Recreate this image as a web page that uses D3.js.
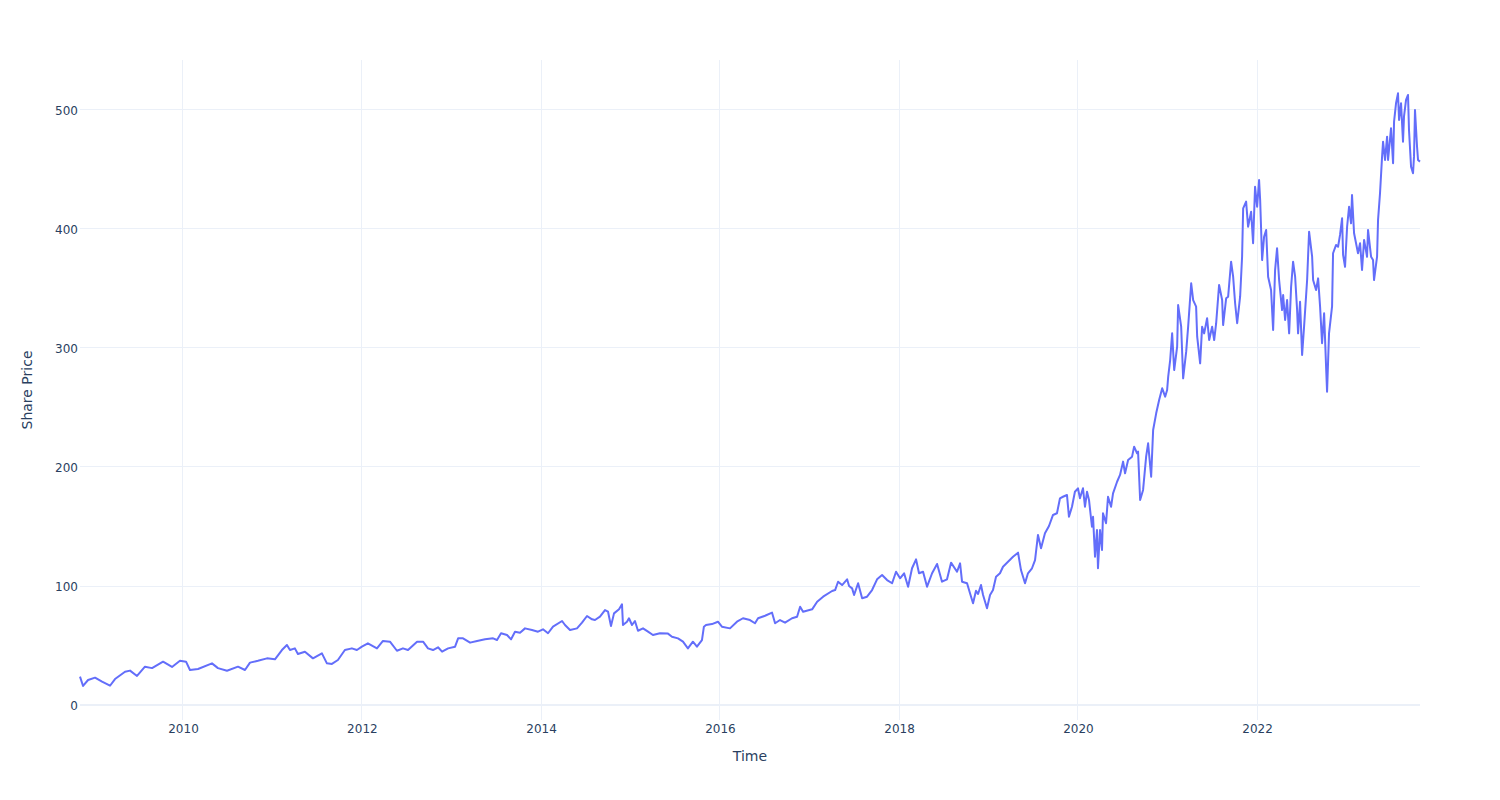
<!DOCTYPE html>
<html>
<head>
<meta charset="utf-8">
<script src="https://cdn.jsdelivr.net/npm/d3@7"></script>
<style>
  html, body { margin: 0; padding: 0; background: #fff; }
  svg { display: block; }
  text { font-family: "DejaVu Sans", Verdana, sans-serif; fill: #2a3f5f; }
</style>
</head>
<body>
<svg id="chart" width="1500" height="800"></svg>
<script>
// Time as decimal years
const years = [
2008.849,2008.883,2008.939,2009.017,2009.095,2009.184,2009.240,2009.352,2009.408,2009.486,
2009.575,2009.654,2009.777,2009.877,2009.966,2010.034,2010.078,2010.168,2010.324,2010.391,
2010.492,2010.615,2010.693,2010.749,2010.838,2010.939,2011.028,2011.106,2011.162,2011.196,
2011.251,2011.285,2011.363,2011.453,2011.553,2011.609,2011.665,2011.732,2011.810,2011.888,
2011.944,2012.000,2012.067,2012.168,2012.235,2012.313,2012.391,2012.458,2012.514,2012.615,
2012.682,2012.737,2012.793,2012.849,2012.894,2012.961,2013.039,2013.073,2013.128,2013.207,
2013.285,2013.374,2013.464,2013.508,2013.553,2013.620,2013.665,2013.709,2013.765,2013.821,
2013.899,2013.966,2014.022,2014.078,2014.134,2014.235,2014.268,2014.324,2014.402,2014.458,
2014.514,2014.570,2014.603,2014.659,2014.715,2014.749,2014.782,2014.816,2014.872,2014.905,
2014.916,2014.961,2014.983,2015.017,2015.050,2015.084,2015.140,2015.196,2015.251,2015.330,
2015.419,2015.464,2015.531,2015.587,2015.642,2015.698,2015.743,2015.799,2015.821,2015.844,
2015.911,2015.978,2016.022,2016.112,2016.190,2016.257,2016.335,2016.391,2016.425,2016.503,
2016.581,2016.615,2016.670,2016.726,2016.804,2016.860,2016.894,2016.927,2017.028,2017.084,
2017.151,2017.251,2017.285,2017.318,2017.363,2017.419,2017.441,2017.475,2017.497,2017.542,
2017.587,2017.642,2017.698,2017.754,2017.810,2017.866,2017.922,2017.966,2018.011,2018.056,
2018.101,2018.145,2018.190,2018.223,2018.268,2018.313,2018.369,2018.425,2018.480,2018.536,
2018.581,2018.648,2018.682,2018.704,2018.760,2018.793,2018.827,2018.860,2018.883,2018.916,
2018.939,2018.983,2019.017,2019.050,2019.084,2019.128,2019.162,2019.218,2019.274,2019.330,
2019.363,2019.408,2019.441,2019.486,2019.520,2019.553,2019.587,2019.631,2019.676,2019.721,
2019.765,2019.799,2019.832,2019.877,2019.899,2019.933,2019.966,2020.000,2020.022,2020.056,
2020.078,2020.101,2020.123,2020.156,2020.168,2020.190,2020.212,2020.223,2020.246,2020.268,
2020.279,2020.313,2020.335,2020.369,2020.391,2020.436,2020.469,2020.503,2020.525,2020.559,
2020.603,2020.626,2020.659,2020.670,2020.693,2020.726,2020.760,2020.782,2020.816,2020.838,
2020.872,2020.905,2020.939,2020.972,2020.994,2021.006,2021.028,2021.050,2021.073,2021.106,
2021.117,2021.151,2021.173,2021.207,2021.229,2021.263,2021.285,2021.318,2021.330,2021.363,
2021.385,2021.408,2021.441,2021.464,2021.497,2021.520,2021.542,2021.575,2021.609,2021.620,
2021.654,2021.676,2021.709,2021.732,2021.754,2021.777,2021.810,2021.832,2021.844,2021.877,
2021.899,2021.933,2021.955,2021.977,2022.000,2022.022,2022.034,2022.056,2022.078,2022.101,
2022.123,2022.156,2022.179,2022.201,2022.223,2022.246,2022.279,2022.291,2022.313,2022.335,
2022.358,2022.380,2022.402,2022.425,2022.447,2022.458,2022.480,2022.503,2022.525,2022.559,
2022.581,2022.615,2022.626,2022.659,2022.682,2022.704,2022.726,2022.749,2022.771,2022.782,
2022.804,2022.838,2022.849,2022.883,2022.905,2022.927,2022.950,2022.961,2022.983,2023.006,
2023.028,2023.050,2023.061,2023.084,2023.106,2023.128,2023.151,2023.173,2023.196,2023.229,
2023.240,2023.274,2023.296,2023.307,2023.341,2023.352,2023.374,2023.397,2023.408,2023.430,
2023.453,2023.464,2023.497,2023.520,2023.531,2023.553,2023.575,2023.587,2023.609,2023.631,
2023.642,2023.665,2023.687,2023.698,2023.721,2023.743,2023.754,2023.765,2023.788,2023.799,
2023.821
];

// Share price values
const prices = [
23.8,16.0,21.0,23.0,19.6,16.2,21.8,28.0,28.9,24.4,
32.2,31.0,36.4,32.0,37.2,36.4,29.4,30.3,35.0,31.0,
28.8,32.2,29.4,35.6,37.2,39.2,38.4,46.2,50.4,46.2,
47.6,42.9,44.8,39.2,43.4,35.0,34.5,37.8,46.2,47.6,
46.2,49.0,51.8,47.6,53.8,53.2,45.6,47.6,46.2,53.2,
53.2,47.6,46.2,48.5,44.8,47.6,49.0,56.0,56.0,52.4,
53.8,55.2,56.0,54.6,60.3,58.8,55.2,61.6,60.8,64.4,
63.0,61.6,63.6,60.3,65.8,70.6,67.2,63.0,64.4,69.2,
74.8,72.0,71.4,74.2,79.8,78.4,66.4,77.0,80.4,84.6,
67.2,70.0,72.9,67.2,70.6,62.4,64.4,61.6,58.8,60.3,
60.0,57.4,56.0,53.2,47.6,53.2,49.0,54.6,65.8,67.2,
68.0,70.0,65.8,64.4,70.0,72.9,71.4,68.7,72.9,75.0,
77.6,68.7,71.4,69.2,72.9,74.2,82.6,78.4,80.4,86.8,
91.0,95.8,96.6,103.6,100.8,105.6,100.0,98.0,92.4,102.3,
89.7,91.0,96.6,105.6,109.2,105.0,102.3,112.0,106.5,110.7,
99.4,114.9,122.4,110.7,112.0,99.4,110.7,118.5,103.6,105.6,
119.6,112.0,119.0,103.6,102.3,93.9,85.5,96.0,93.3,100.8,
92.4,81.3,92.4,96.6,107.8,110.7,116.2,120.4,124.6,128.0,
113.4,102.3,110.7,114.9,121.8,142.9,131.7,144.3,150.4,159.7,
161.1,173.7,175.0,176.5,158.2,166.6,179.2,182.1,173.7,182.1,
166.6,179.2,172.3,149.8,158.2,124.6,147.0,114.9,147.0,130.3,
161.1,152.7,175.0,166.6,177.9,187.6,193.3,204.5,194.7,205.9,
208.7,217.1,211.5,212.9,172.3,180.7,208.7,219.9,191.8,231.1,
245.1,256.3,266.1,259.1,264.7,275.9,289.9,312.3,281.5,301.1,
336.1,317.9,274.5,296.9,317.9,354.4,340.3,334.7,309.5,287.1,
317.9,312.3,325.0,306.7,317.9,306.7,320.8,353.0,340.3,319.3,
341.8,343.1,372.5,359.9,337.6,320.8,343.1,376.7,417.4,423.0,
401.9,414.5,388.0,435.5,418.7,441.2,424.4,373.9,393.5,399.2,
359.9,348.7,315.1,365.5,383.8,357.1,331.9,344.5,323.5,340.3,
312.3,351.5,372.5,359.9,331.9,312.3,338.9,294.1,317.9,357.1,
397.7,376.7,357.1,348.7,358.5,334.7,304.0,329.2,284.3,263.3,
312.3,335.0,379.6,386.6,385.1,395.0,409.0,378.2,368.3,401.9,
418.7,404.8,428.6,396.4,388.0,379.6,388.0,365.5,390.8,376.7,
399.2,376.7,373.9,357.1,376.7,407.6,430.0,460.8,473.4,458.0,
477.6,458.0,484.6,455.2,490.2,505.6,514.0,491.6,505.6,473.4,
494.4,508.4,512.6,483.2,452.3,446.8,460.8,500.0,469.1,458.0,
456.6
];

const yTicks = [0, 100, 200, 300, 400, 500];
const xTickYears = [2010, 2012, 2014, 2016, 2018, 2020, 2022];
const xTitle = "Time";
const yTitle = "Share Price";

function yearToDate(y) {
  const yr = Math.floor(y);
  const start = Date.UTC(yr, 0, 1);
  const end = Date.UTC(yr + 1, 0, 1);
  return new Date(start + (y - yr) * (end - start));
}

const data = years.map((y, i) => ({ date: yearToDate(y), value: prices[i] }));

const W = 1500, H = 800;
const margin = { top: 60, right: 80, bottom: 80, left: 80 };
const iw = W - margin.left - margin.right;
const ih = H - margin.top - margin.bottom;

const svg = d3.select("#chart");
const g = svg.append("g").attr("transform", `translate(${margin.left},${margin.top})`);

const x = d3.scaleUtc()
  .domain(d3.extent(data, d => d.date))
  .range([0, iw]);
const y = d3.scaleLinear()
  .domain([-12.6, 542])
  .range([ih, 0]);

const gridColor = "#EBF0F8";

// vertical grid
const xTickDates = xTickYears.map(v => new Date(Date.UTC(v, 0, 1)));
g.append("g")
  .selectAll("line")
  .data(xTickDates)
  .join("line")
  .attr("x1", d => x(d)).attr("x2", d => x(d))
  .attr("y1", 0).attr("y2", ih)
  .attr("stroke", gridColor).attr("stroke-width", 1)
  .attr("shape-rendering", "crispEdges");

// horizontal grid
g.append("g")
  .selectAll("line")
  .data(yTicks.filter(t => t !== 0))
  .join("line")
  .attr("x1", 0).attr("x2", iw)
  .attr("y1", d => y(d)).attr("y2", d => y(d))
  .attr("stroke", gridColor).attr("stroke-width", 1)
  .attr("shape-rendering", "crispEdges");

// zero line
g.append("line")
  .attr("x1", 0).attr("x2", iw)
  .attr("y1", y(0)).attr("y2", y(0))
  .attr("stroke", gridColor).attr("stroke-width", 2);

// Axes (labels only, like plotly)
const xAxis = d3.axisBottom(x)
  .tickValues(xTickDates)
  .tickFormat(d3.utcFormat("%Y"))
  .tickSize(0)
  .tickPadding(0);
const xg = g.append("g").attr("transform", `translate(0,${ih})`).call(xAxis);
xg.select(".domain").remove();
xg.selectAll("text")
  .attr("dy", null)
  .attr("y", 13)
  .style("font-size", "12px")
  .style("font-family", '"DejaVu Sans", Verdana, sans-serif')
  .attr("fill", "#2a3f5f");

const yAxis = d3.axisLeft(y)
  .tickValues(yTicks)
  .tickSize(0)
  .tickPadding(2);
const yg = g.append("g").call(yAxis);
yg.select(".domain").remove();
yg.selectAll("text")
  .attr("dy", "0.35em")
  .style("font-size", "12px")
  .style("font-family", '"DejaVu Sans", Verdana, sans-serif')
  .attr("fill", "#2a3f5f");

// line
const line = d3.line()
  .x(d => x(d.date))
  .y(d => y(d.value));

g.append("path")
  .datum(data)
  .attr("fill", "none")
  .attr("stroke", "#636efa")
  .attr("stroke-width", 2)
  .attr("stroke-linejoin", "round")
  .attr("d", line);

// axis titles
svg.append("text")
  .attr("x", margin.left + iw / 2)
  .attr("y", 761)
  .attr("text-anchor", "middle")
  .style("font-size", "14px")
  .text(xTitle);

svg.append("text")
  .attr("transform", `translate(32,${margin.top + ih / 2}) rotate(-90)`)
  .attr("text-anchor", "middle")
  .style("font-size", "14px")
  .text(yTitle);
</script>
</body>
</html>
